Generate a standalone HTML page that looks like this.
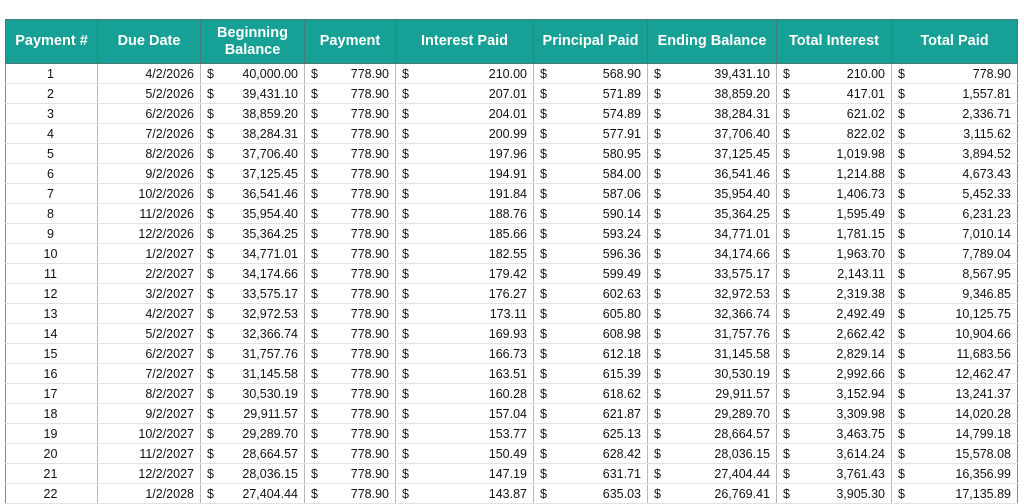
<!DOCTYPE html>
<html><head><meta charset="utf-8"><style>
body{margin:0;background:#fff;width:1024px;height:501px;overflow:hidden;font-family:"Liberation Sans",Arial,sans-serif;}
table{position:absolute;left:5px;top:19px;border-collapse:collapse;table-layout:fixed;width:1012px;font-size:12.5px;color:#111;}
th{background:#17a096;color:#fff;font-weight:bold;font-size:14.5px;height:43px;padding:0 2px;border:1px solid #4a7a76;line-height:17px;}
td{height:19px;padding:0 6px 0 4px;border-left:1px solid #b8b8b8;border-right:1px solid #b8b8b8;border-bottom:1px solid #e2e2e2;white-space:nowrap;}
td.c{text-align:center}
td.r{text-align:right}
td.m{text-align:right;position:relative}
td.m:before{content:"$";position:absolute;left:6px}
tr td:first-child{border-left:1px solid #888}
tr td:last-child{border-right:1px solid #888}
</style></head><body>
<table>
<colgroup><col style="width:92px"><col style="width:103px"><col style="width:104px"><col style="width:91px"><col style="width:138px"><col style="width:114px"><col style="width:129px"><col style="width:115px"><col style="width:126px"></colgroup>
<tr><th>Payment #</th><th>Due Date</th><th>Beginning<br>Balance</th><th>Payment</th><th>Interest Paid</th><th>Principal Paid</th><th>Ending Balance</th><th>Total Interest</th><th>Total Paid</th></tr>
<tr><td class="c">1</td><td class="r">4/2/2026</td><td class="m">40,000.00</td><td class="m">778.90</td><td class="m">210.00</td><td class="m">568.90</td><td class="m">39,431.10</td><td class="m">210.00</td><td class="m">778.90</td></tr>
<tr><td class="c">2</td><td class="r">5/2/2026</td><td class="m">39,431.10</td><td class="m">778.90</td><td class="m">207.01</td><td class="m">571.89</td><td class="m">38,859.20</td><td class="m">417.01</td><td class="m">1,557.81</td></tr>
<tr><td class="c">3</td><td class="r">6/2/2026</td><td class="m">38,859.20</td><td class="m">778.90</td><td class="m">204.01</td><td class="m">574.89</td><td class="m">38,284.31</td><td class="m">621.02</td><td class="m">2,336.71</td></tr>
<tr><td class="c">4</td><td class="r">7/2/2026</td><td class="m">38,284.31</td><td class="m">778.90</td><td class="m">200.99</td><td class="m">577.91</td><td class="m">37,706.40</td><td class="m">822.02</td><td class="m">3,115.62</td></tr>
<tr><td class="c">5</td><td class="r">8/2/2026</td><td class="m">37,706.40</td><td class="m">778.90</td><td class="m">197.96</td><td class="m">580.95</td><td class="m">37,125.45</td><td class="m">1,019.98</td><td class="m">3,894.52</td></tr>
<tr><td class="c">6</td><td class="r">9/2/2026</td><td class="m">37,125.45</td><td class="m">778.90</td><td class="m">194.91</td><td class="m">584.00</td><td class="m">36,541.46</td><td class="m">1,214.88</td><td class="m">4,673.43</td></tr>
<tr><td class="c">7</td><td class="r">10/2/2026</td><td class="m">36,541.46</td><td class="m">778.90</td><td class="m">191.84</td><td class="m">587.06</td><td class="m">35,954.40</td><td class="m">1,406.73</td><td class="m">5,452.33</td></tr>
<tr><td class="c">8</td><td class="r">11/2/2026</td><td class="m">35,954.40</td><td class="m">778.90</td><td class="m">188.76</td><td class="m">590.14</td><td class="m">35,364.25</td><td class="m">1,595.49</td><td class="m">6,231.23</td></tr>
<tr><td class="c">9</td><td class="r">12/2/2026</td><td class="m">35,364.25</td><td class="m">778.90</td><td class="m">185.66</td><td class="m">593.24</td><td class="m">34,771.01</td><td class="m">1,781.15</td><td class="m">7,010.14</td></tr>
<tr><td class="c">10</td><td class="r">1/2/2027</td><td class="m">34,771.01</td><td class="m">778.90</td><td class="m">182.55</td><td class="m">596.36</td><td class="m">34,174.66</td><td class="m">1,963.70</td><td class="m">7,789.04</td></tr>
<tr><td class="c">11</td><td class="r">2/2/2027</td><td class="m">34,174.66</td><td class="m">778.90</td><td class="m">179.42</td><td class="m">599.49</td><td class="m">33,575.17</td><td class="m">2,143.11</td><td class="m">8,567.95</td></tr>
<tr><td class="c">12</td><td class="r">3/2/2027</td><td class="m">33,575.17</td><td class="m">778.90</td><td class="m">176.27</td><td class="m">602.63</td><td class="m">32,972.53</td><td class="m">2,319.38</td><td class="m">9,346.85</td></tr>
<tr><td class="c">13</td><td class="r">4/2/2027</td><td class="m">32,972.53</td><td class="m">778.90</td><td class="m">173.11</td><td class="m">605.80</td><td class="m">32,366.74</td><td class="m">2,492.49</td><td class="m">10,125.75</td></tr>
<tr><td class="c">14</td><td class="r">5/2/2027</td><td class="m">32,366.74</td><td class="m">778.90</td><td class="m">169.93</td><td class="m">608.98</td><td class="m">31,757.76</td><td class="m">2,662.42</td><td class="m">10,904.66</td></tr>
<tr><td class="c">15</td><td class="r">6/2/2027</td><td class="m">31,757.76</td><td class="m">778.90</td><td class="m">166.73</td><td class="m">612.18</td><td class="m">31,145.58</td><td class="m">2,829.14</td><td class="m">11,683.56</td></tr>
<tr><td class="c">16</td><td class="r">7/2/2027</td><td class="m">31,145.58</td><td class="m">778.90</td><td class="m">163.51</td><td class="m">615.39</td><td class="m">30,530.19</td><td class="m">2,992.66</td><td class="m">12,462.47</td></tr>
<tr><td class="c">17</td><td class="r">8/2/2027</td><td class="m">30,530.19</td><td class="m">778.90</td><td class="m">160.28</td><td class="m">618.62</td><td class="m">29,911.57</td><td class="m">3,152.94</td><td class="m">13,241.37</td></tr>
<tr><td class="c">18</td><td class="r">9/2/2027</td><td class="m">29,911.57</td><td class="m">778.90</td><td class="m">157.04</td><td class="m">621.87</td><td class="m">29,289.70</td><td class="m">3,309.98</td><td class="m">14,020.28</td></tr>
<tr><td class="c">19</td><td class="r">10/2/2027</td><td class="m">29,289.70</td><td class="m">778.90</td><td class="m">153.77</td><td class="m">625.13</td><td class="m">28,664.57</td><td class="m">3,463.75</td><td class="m">14,799.18</td></tr>
<tr><td class="c">20</td><td class="r">11/2/2027</td><td class="m">28,664.57</td><td class="m">778.90</td><td class="m">150.49</td><td class="m">628.42</td><td class="m">28,036.15</td><td class="m">3,614.24</td><td class="m">15,578.08</td></tr>
<tr><td class="c">21</td><td class="r">12/2/2027</td><td class="m">28,036.15</td><td class="m">778.90</td><td class="m">147.19</td><td class="m">631.71</td><td class="m">27,404.44</td><td class="m">3,761.43</td><td class="m">16,356.99</td></tr>
<tr><td class="c">22</td><td class="r">1/2/2028</td><td class="m">27,404.44</td><td class="m">778.90</td><td class="m">143.87</td><td class="m">635.03</td><td class="m">26,769.41</td><td class="m">3,905.30</td><td class="m">17,135.89</td></tr>
</table>
</body></html>
